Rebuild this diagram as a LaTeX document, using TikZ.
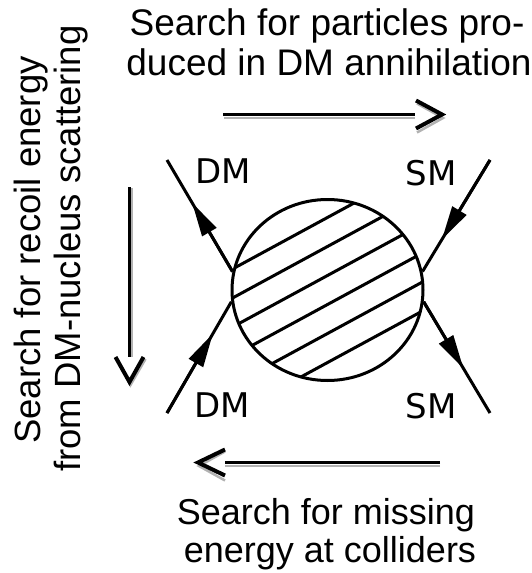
\documentclass[tikz,border=0pt]{standalone}
\usepackage{fontspec}
\setmainfont{Liberation Sans}
\newfontfamily\labelfont{DejaVu Sans}
\usetikzlibrary{arrows.meta,shapes.geometric,calc}

\begin{document}
\begin{tikzpicture}[x=1pt,y=-1pt,
  toptext/.style={font=\fontsize{37}{40}\selectfont, anchor=base, inner sep=0pt},
  bottext/.style={font=\fontsize{36}{42}\selectfont, anchor=base, inner sep=0pt},
  sidetext/.style={font=\fontsize{36.5}{42}\selectfont, anchor=base, inner sep=0pt, rotate=90},
  particle/.style={font=\labelfont\fontsize{34}{40}\selectfont, anchor=base, inner sep=0pt},
  blobstyle/.style={ellipse, draw, line width=3pt, minimum width=191pt, minimum height=181pt, inner sep=0pt},
  hatch/.style={line width=3pt},
  leg/.style={line width=3pt},
  flow/.style={line width=3pt, -{Triangle[length=34pt,width=16pt]}},
  shaft/.style={line width=3.5pt},
  chev/.style={line width=4pt, line join=miter},
  shade/.style={line width=2.5pt, black!30},
]
\useasboundingbox (0,0) rectangle (532,573);

% captions
\node[toptext] (t1) at (327,35) {Search for particles pro-};
\node[toptext] (t2) at (329,75) {duced in DM annihilation};
\node[bottext] (b1) at (326,524) {Search for missing};
\node[bottext] (b2) at (330,562) {energy at colliders};
\node[sidetext] (s1) at (40,250) {Search for recoil energy};
\node[sidetext] (s2) at (80,248.5) {from DM-nucleus scattering};

% hatched interaction blob
\node[blobstyle, path picture={
    \foreach \o in {-63.75,-38.25,-12.75,12.75,38.25,63.75}
      \draw[hatch] ($(path picture bounding box.center)+(0.477*\o,0.879*\o)+(-0.879*140,0.477*140)$)
                   -- ++(0.879*280,-0.477*280);
  }] (blob) at (327.5,290) {};

% external legs
\coordinate (tl) at (167,160);
\coordinate (tr) at (490,160);
\coordinate (bl) at (167,413);
\coordinate (br) at (490,413);
\draw[leg] (blob.169) -- (tl);
\draw[leg] (bl) -- (blob.187);
\draw[leg] (tr) -- (blob.11);
\draw[leg] (blob.-7) -- (br);

% arrowheads on the legs
\draw[flow] (blob.169) -- ($(blob.169)!0.616!(tl)$);
\draw[flow] (bl) -- ($(bl)!0.714!(blob.187)$);
\draw[flow] (tr) -- ($(tr)!0.714!(blob.11)$);
\draw[flow] (blob.-7) -- ($(blob.-7)!0.6!(br)$);

% particle labels
\node[particle] (dm1) at (223,183) {DM};
\node[particle] (sm1) at (431,185) {SM};
\node[particle] (dm2) at (222.5,417) {DM};
\node[particle] (sm2) at (431,418) {SM};

% direction arrows
\coordinate (ta) at (223,114.5);
\coordinate (tb) at (442,114.5);
\coordinate (ba) at (440,462.5);
\coordinate (bb) at (198,462.5);
\coordinate (la) at (129.5,187);
\coordinate (lb) at (129.5,382);

% top: left to right
\draw[shade] ($(ta)+(1,3.5)$) -- ($(tb)+(-27,3.5)$);
\draw[shade] ($(tb)+(-25,-11)$) -- ($(tb)+(1,3.5)$) -- ($(tb)+(-25,18)$);
\draw[shaft] (ta) -- ($(tb)+(-27,0)$);
\draw[chev] ($(tb)+(-26,-14)$) -- (tb) -- ($(tb)+(-26,14)$);

% bottom: right to left
\draw[shade] ($(ba)+(0,3.5)$) -- ($(bb)+(27,3.5)$);
\draw[shade] ($(bb)+(27,-11)$) -- ($(bb)+(1,3.5)$) -- ($(bb)+(27,18)$);
\draw[shaft] (ba) -- ($(bb)+(27,0)$);
\draw[chev] ($(bb)+(27,-13)$) -- (bb) -- ($(bb)+(27,13)$);

% left: top to bottom
\draw[shade] ($(la)+(2,1)$) -- ($(lb)+(2,-25)$);
\draw[shade] ($(lb)+(-12,-23)$) -- ($(lb)+(1,3)$) -- ($(lb)+(16,-23)$);
\draw[shaft] (la) -- ($(lb)+(0,-25)$);
\draw[chev] ($(lb)+(-14,-25)$) -- (lb) -- ($(lb)+(14,-25)$);
\end{tikzpicture}
\end{document}
